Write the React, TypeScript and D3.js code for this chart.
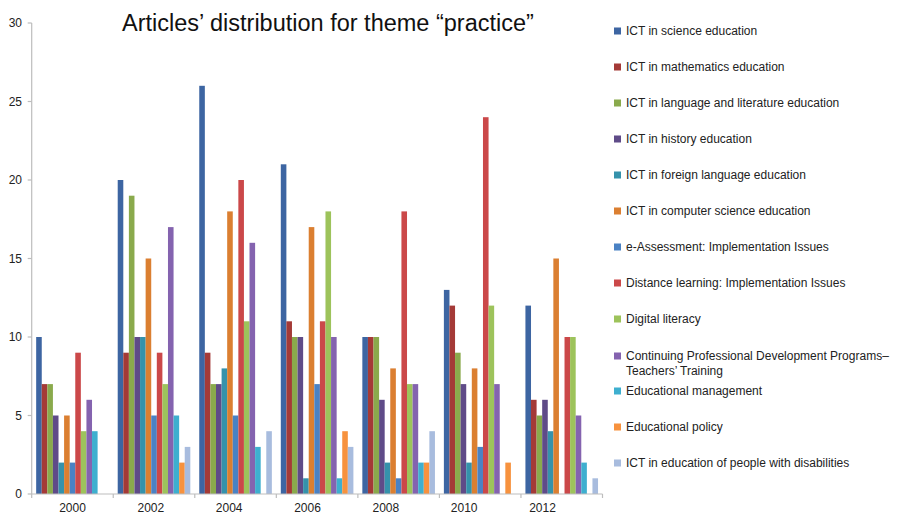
import React from "react";
import * as d3 from "d3";

const years = ["2000", "2002", "2004", "2006", "2008", "2010", "2012"];

const seriesNames = [
  "ICT in science education",
  "ICT in mathematics education",
  "ICT in language and literature education",
  "ICT in history education",
  "ICT in foreign language education",
  "ICT in computer science education",
  "e-Assessment: Implementation Issues",
  "Distance learning: Implementation Issues",
  "Digital literacy",
  "Continuing Professional Development Programs–|Teachers’ Training",
  "Educational management",
  "Educational policy",
  "ICT in education of people with disabilities",
];

const science = [10, 20, 26, 21, 10, 13, 12];
const mathematics = [7, 9, 9, 11, 10, 12, 6];
const languageLit = [7, 19, 7, 10, 10, 9, 5];
const history = [5, 10, 7, 10, 6, 7, 6];
const foreignLang = [2, 10, 8, 1, 2, 2, 4];
const computerSci = [5, 15, 18, 17, 8, 8, 15];
const eAssessment = [2, 5, 5, 7, 1, 3, 0];
const distance = [9, 9, 20, 11, 18, 24, 10];
const digitalLit = [4, 7, 11, 18, 7, 12, 10];
const cpd = [6, 17, 16, 10, 7, 7, 5];
const edManagement = [4, 5, 3, 1, 2, 0, 2];
const edPolicy = [0, 2, 0, 4, 2, 2, 0];
const disabilities = [0, 3, 4, 3, 4, 0, 1];

const seriesValues = [
  science, mathematics, languageLit, history, foreignLang, computerSci,
  eAssessment, distance, digitalLit, cpd, edManagement, edPolicy, disabilities,
];

const colors = [
  "#3D65A2", "#A43A37", "#8AAA4C", "#5F4B88", "#3592AB", "#DB7F31",
  "#4A82C4", "#CB4849", "#9DC35B", "#8463AF", "#3EAFCF", "#F7923E", "#A8BCDE",
];

const yTicks = [0, 5, 10, 15, 20, 25, 30];

const W = 898;
const H = 520;
const plotLeft = 31.7;
const plotRight = 602.5;
const plotTop = 23;
const plotBottom = 494;

export default function App() {
  const x0 = d3.scaleBand<string>().domain(years).range([plotLeft, plotRight]).paddingInner(0).paddingOuter(0);
  const x1 = d3
    .scaleBand<number>()
    .domain(d3.range(seriesNames.length))
    .range([0, x0.bandwidth()])
    .paddingInner(0)
    .paddingOuter(0.8);
  const xLabel = d3.scalePoint<string>().domain(years).range([72.5, 542.5]);
  const y = d3.scaleLinear().domain([0, 30]).range([plotBottom, plotTop]);

  const font = "'Liberation Sans', Arial, Helvetica, sans-serif";
  const legendX = 614;
  const legendTextX = 626;
  const legendY = [31, 67, 103, 139, 175, 211, 247, 283, 319, 356, 391, 427, 463];

  return (
    <svg
      width={W}
      height={H}
      style={{ position: "absolute", left: 0, top: 0, background: "#fff" }}
      fontFamily={font}
    >
      <rect x={0} y={0} width={W} height={H} fill="#fff" />
      {/* title */}
      <text x={328} y={31} textAnchor="middle" fontSize={23.5} fill="#111">
        Articles’ distribution for theme “practice”
      </text>

      {/* y axis */}
      <line x1={plotLeft} x2={plotLeft} y1={plotTop} y2={plotBottom} stroke="#BDBDBD" strokeWidth={1.2} />
      {yTicks.map((t) => (
        <g key={t}>
          <line x1={plotLeft - 4} x2={plotLeft} y1={y(t)} y2={y(t)} stroke="#BDBDBD" strokeWidth={1.2} />
          <text x={22} y={y(t)} dy="0.35em" textAnchor="end" fontSize={12} fill="#222">
            {t}
          </text>
        </g>
      ))}

      {/* bars */}
      {years.map((yr, gi) => (
        <g key={yr} transform={`translate(${x0(yr)},0)`}>
          {seriesValues.map((vals, si) =>
            vals[gi] > 0 ? (
              <rect
                key={si}
                x={x1(si)}
                y={y(vals[gi])}
                width={x1.bandwidth()}
                height={y(0) - y(vals[gi])}
                fill={colors[si]}
              />
            ) : null
          )}
        </g>
      ))}

      {/* x axis */}
      <line x1={plotLeft} x2={plotRight} y1={plotBottom} y2={plotBottom} stroke="#BDBDBD" strokeWidth={1.2} />
      {[...years.map((yr) => x0(yr) as number), plotRight].map((xv, i) => (
        <line key={i} x1={xv} x2={xv} y1={plotBottom} y2={plotBottom + 4} stroke="#BDBDBD" strokeWidth={1.2} />
      ))}
      {years.map((yr) => (
        <text key={yr} x={xLabel(yr)} y={512} textAnchor="middle" fontSize={12} fill="#222">
          {yr}
        </text>
      ))}

      {/* legend */}
      {seriesNames.map((name, i) => {
        const lines = name.split("|");
        return (
          <g key={i}>
            <rect x={legendX} y={legendY[i] - 3.5} width={7} height={7} fill={colors[i]} />
            {lines.map((ln, li) => (
              <text
                key={li}
                x={legendTextX}
                y={legendY[i] + li * 14.5}
                dy="0.35em"
                fontSize={12}
                fill="#222"
              >
                {ln}
              </text>
            ))}
          </g>
        );
      })}
    </svg>
  );
}
